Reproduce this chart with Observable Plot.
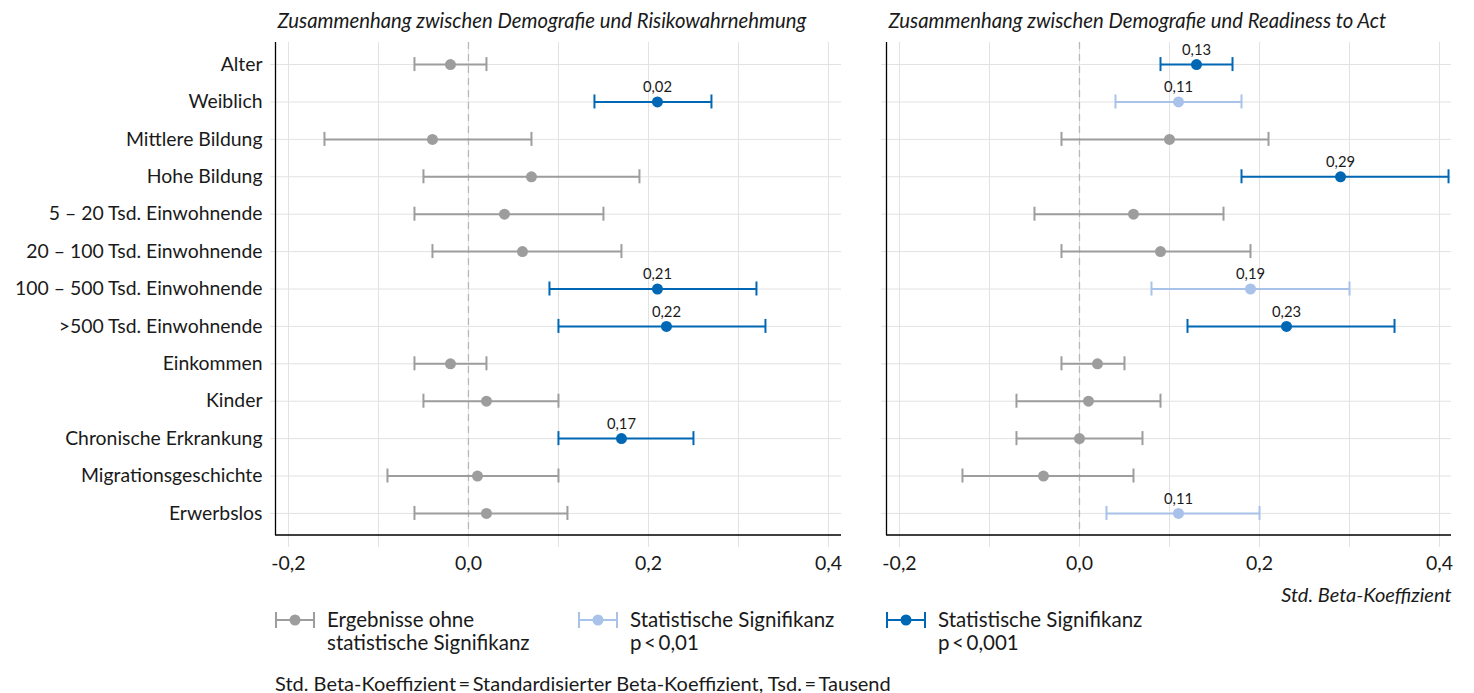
<!DOCTYPE html>
<html><head><meta charset="utf-8">
<script src="https://cdn.jsdelivr.net/npm/d3@7"></script>
<script src="https://cdn.jsdelivr.net/npm/@observablehq/plot@0.6"></script>
<style>
body{margin:0;background:#fff;font-family:Lato,"Open Sans",sans-serif;color:#1a1a1a;}
#wrap{position:relative;width:1474px;height:693px;}
.panel{position:absolute;top:0;}
.leg{position:absolute;top:608px;display:flex;align-items:flex-start;font-size:20.5px;line-height:23px;}
.leg svg{margin-top:2px;margin-right:12px;}
#note{position:absolute;left:275px;top:674px;font-size:20px;line-height:18px;white-space:nowrap;}
</style></head><body>
<div id="wrap">
  <div id="p1" class="panel" style="left:0px"></div>
  <div id="p2" class="panel" style="left:860px"></div>
  <div id="legend"></div>
  <div id="note"></div>
</div>
<script>
const categories = ["Alter","Weiblich","Mittlere Bildung","Hohe Bildung","5 – 20 Tsd. Einwohnende","20 – 100 Tsd. Einwohnende","100 – 500 Tsd. Einwohnende",">500 Tsd. Einwohnende","Einkommen","Kinder","Chronische Erkrankung","Migrationsgeschichte","Erwerbslos"];

const risikoCoef = [-0.02, 0.21, -0.04, 0.07, 0.04, 0.06, 0.21, 0.22, -0.02, 0.02, 0.17, 0.01, 0.02];
const risikoLo   = [-0.06, 0.14, -0.16, -0.05, -0.06, -0.04, 0.09, 0.10, -0.06, -0.05, 0.10, -0.09, -0.06];
const risikoHi   = [0.02, 0.27, 0.07, 0.19, 0.15, 0.17, 0.32, 0.33, 0.02, 0.10, 0.25, 0.10, 0.11];
const risikoSig  = ["ns","p001","ns","ns","ns","ns","p001","p001","ns","ns","p001","ns","ns"];
const risikoLabels = ["","0,02","","","","","0,21","0,22","","","0,17","",""];

const readyCoef = [0.13, 0.11, 0.10, 0.29, 0.06, 0.09, 0.19, 0.23, 0.02, 0.01, 0.00, -0.04, 0.11];
const readyLo   = [0.09, 0.04, -0.02, 0.18, -0.05, -0.02, 0.08, 0.12, -0.02, -0.07, -0.07, -0.13, 0.03];
const readyHi   = [0.17, 0.18, 0.21, 0.41, 0.16, 0.19, 0.30, 0.35, 0.05, 0.09, 0.07, 0.06, 0.20];
const readySig  = ["p001","p01","ns","p001","ns","ns","p01","p001","ns","ns","ns","ns","p01"];
const readyLabels = ["0,13","0,11","","0,29","","","0,19","0,23","","","","","0,11"];

const xTicks = [-0.2, -0.1, 0, 0.1, 0.2, 0.3, 0.4];
const sigKeys = ["ns","p01","p001"];
const sigColors = ["#9d9d9d","#a9c2ea","#0067b4"];
const sigNames = [["Ergebnisse ohne","statistische Signifikanz"],["Statistische Signifikanz","p\u2009<\u20090,01"],["Statistische Signifikanz","p\u2009<\u20090,001"]];
const titles = ["Zusammenhang zwischen Demografie und Risikowahrnehmung","Zusammenhang zwischen Demografie und Readiness to Act"];
const xAxisLabel = "Std. Beta-Koeffizient";
const noteText = "Std. Beta-Koeffizient\u2009=\u2009Standardisierter Beta-Koeffizient, Tsd.\u2009=\u2009Tausend";

const GRID = "#e2e2e2";

function bottomLine(index, scales, values, dims) {
  const l = document.createElementNS("http://www.w3.org/2000/svg", "line");
  const y = dims.height - dims.marginBottom;
  l.setAttribute("x1", dims.marginLeft);
  l.setAttribute("x2", dims.width - dims.marginRight);
  l.setAttribute("y1", y);
  l.setAttribute("y2", y);
  l.setAttribute("stroke", "#000");
  l.setAttribute("stroke-width", "1.3");
  return l;
}

function makePanel({coef, lo, hi, sig, labels, title, width, marginLeft, marginRight, domain, showY, xlabel}) {
  const rows = categories.map((c, i) => ({cat: c, coef: coef[i], lo: lo[i], hi: hi[i], sig: sig[i], label: labels[i]}));
  const marks = [
    Plot.gridX(xTicks, {stroke: GRID, strokeOpacity: 1}),
    Plot.gridY({stroke: GRID, strokeOpacity: 1}),
    Plot.axisX(xTicks, {
      tickSize: 12, stroke: GRID, strokeOpacity: 1, tickPadding: 9, fontSize: 19.5, fill: "#1a1a1a",
      tickFormat: d => (Math.round(d * 10) % 2 === 0 ? d.toFixed(1).replace(".", ",") : ""),
      label: null
    }),
    Plot.axisY({
      tickSize: 5, stroke: GRID, strokeOpacity: 1, tickPadding: 8, fontSize: 19.4, fill: "#1a1a1a",
      tickFormat: showY ? (d => d) : (() => ""), label: null
    }),
    Plot.ruleX([0], {stroke: "#b8b8b8", strokeWidth: 1.3, strokeDasharray: "7,5"}),
    Plot.ruleX([domain[0]], {stroke: "#000", strokeWidth: 1.3}),
    bottomLine,
    Plot.ruleY(rows, {y: "cat", x1: "lo", x2: "hi", stroke: "sig", strokeWidth: 2}),
    Plot.tickX(rows, {x: "lo", y: "cat", stroke: "sig", strokeWidth: 2, insetTop: 11.7, insetBottom: 11.7}),
    Plot.tickX(rows, {x: "hi", y: "cat", stroke: "sig", strokeWidth: 2, insetTop: 11.7, insetBottom: 11.7}),
    Plot.dot(rows, {x: "coef", y: "cat", fill: "sig", r: 5.5}),
    Plot.text(rows.filter(d => d.label), {x: "coef", y: "cat", text: "label", dy: -14.5, fontSize: 14.8, fill: "#1a1a1a"}),
    Plot.text([title], {text: d => d, frameAnchor: "top-left", dx: 2, dy: -15, lineAnchor: "bottom", textAnchor: "start", fontStyle: "italic", fontSize: 20.3, fill: "#1a1a1a"})
  ];
  if (xlabel) marks.push(Plot.text([xlabel], {text: d => d, frameAnchor: "bottom-right", dy: 60, textAnchor: "end", lineAnchor: "middle", fontStyle: "italic", fontSize: 20, fill: "#1a1a1a"}));
  return Plot.plot({
    width, height: 610, marginTop: 42, marginBottom: 75, marginLeft, marginRight,
    style: {fontFamily: "Lato, 'Open Sans', sans-serif", fontSize: "18px", color: "#1a1a1a", background: "transparent", overflow: "visible"},
    x: {domain},
    y: {type: "band", domain: categories, paddingInner: 0, paddingOuter: 0.09, round: false},
    color: {domain: sigKeys, range: sigColors},
    marks
  });
}

document.getElementById("p1").append(makePanel({
  coef: risikoCoef, lo: risikoLo, hi: risikoHi, sig: risikoSig, labels: risikoLabels, title: titles[0],
  width: 860, marginLeft: 275, marginRight: 19, domain: [-0.2144, 0.4145], showY: true
}));
document.getElementById("p2").append(makePanel({
  coef: readyCoef, lo: readyLo, hi: readyHi, sig: readySig, labels: readyLabels, title: titles[1],
  width: 614, marginLeft: 26, marginRight: 23, domain: [-0.2144, 0.4133], showY: false, xlabel: xAxisLabel
}));

// legend
const legendLefts = [275, 578, 886];
const legend = document.getElementById("legend");
sigKeys.forEach((k, i) => {
  const c = sigColors[i];
  const div = document.createElement("div");
  div.className = "leg";
  div.style.left = legendLefts[i] + "px";
  div.innerHTML = `<svg width="40" height="20"><line x1="1" x2="39" y1="10" y2="10" stroke="${c}" stroke-width="2"/><line x1="1" x2="1" y1="2" y2="18" stroke="${c}" stroke-width="2"/><line x1="39" x2="39" y1="2" y2="18" stroke="${c}" stroke-width="2"/><circle cx="20" cy="10" r="5.5" fill="${c}"/></svg><div>${sigNames[i][0]}<br>${sigNames[i][1]}</div>`;
  legend.append(div);
});
document.getElementById("note").textContent = noteText;
</script>
</body></html>
